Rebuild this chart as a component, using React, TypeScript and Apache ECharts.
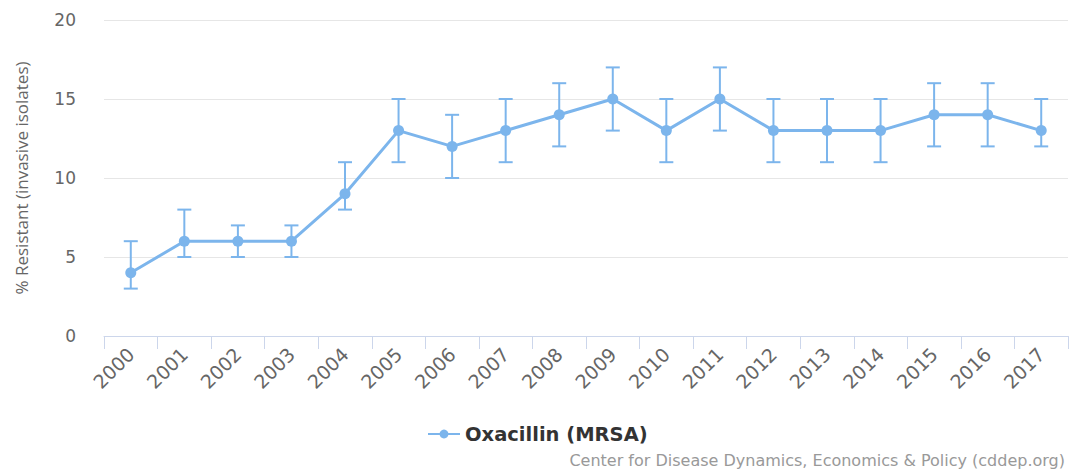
import React, { useEffect, useRef } from "react";
import * as echarts from "echarts";

const years = ["2000", "2001", "2002", "2003", "2004", "2005", "2006", "2007", "2008", "2009", "2010", "2011", "2012", "2013", "2014", "2015", "2016", "2017"];
const resistant = [4, 6, 6, 6, 9, 13, 12, 13, 14, 15, 13, 15, 13, 13, 13, 14, 14, 13];
const lowerBound = [3, 5, 5, 5, 8, 11, 10, 11, 12, 13, 11, 13, 11, 11, 11, 12, 12, 12];
const upperBound = [6, 8, 7, 7, 11, 15, 14, 15, 16, 17, 15, 17, 15, 15, 15, 16, 16, 15];

const seriesName = "Oxacillin (MRSA)";
const credit = "Center for Disease Dynamics, Economics & Policy (cddep.org)";

const FONT = "DejaVu Sans";
const BLUE = "#7cb5ec";

export default function App() {
  const ref = useRef<HTMLDivElement>(null);

  useEffect(() => {
    if (!ref.current) return;
    const chart = echarts.init(ref.current, null, { renderer: "svg" });

    const errorData = years.map((_, i) => [i, lowerBound[i], upperBound[i]]);

    chart.setOption({
      animation: false,
      backgroundColor: "#ffffff",
      grid: { left: 104, right: 2, top: 20, bottom: 134, containLabel: false },
      legend: {
        data: [seriesName],
        left: 422,
        top: 419,
        itemWidth: 32,
        itemHeight: 11,
        itemGap: 10,
        textStyle: { fontFamily: FONT, fontSize: 19.5, fontWeight: "bold", color: "#333333" },
      },
      graphic: [
        {
          type: "text",
          right: 5,
          top: 452,
          style: { text: credit, font: `16px ${FONT}`, fill: "#999999" },
        },
      ],
      xAxis: {
        type: "category",
        data: years,
        boundaryGap: true,
        axisLine: { lineStyle: { color: "#ccd6eb", width: 1 } },
        axisTick: { show: true, length: 13, lineStyle: { color: "#ccd6eb" } },
        axisLabel: {
          rotate: 45,
          margin: 15,
          fontFamily: FONT,
          fontSize: 19,
          color: "#666666",
        },
      },
      yAxis: {
        type: "value",
        min: 0,
        max: 20,
        interval: 5,
        name: "% Resistant (invasive isolates)",
        nameLocation: "middle",
        nameGap: 74,
        nameRotate: 90,
        nameTextStyle: { fontFamily: "Open Sans", fontSize: 17, color: "#666666" },
        axisLine: { show: false },
        axisTick: { show: false },
        axisLabel: { margin: 28, fontFamily: FONT, fontSize: 17, color: "#666666" },
        splitLine: { lineStyle: { color: "#e6e6e6", width: 1 } },
      },
      series: [
        {
          name: "error",
          type: "custom",
          z: 1,
          data: errorData,
          encode: { x: 0, y: [1, 2] },
          renderItem: (params: any, api: any) => {
            const idx = api.value(0);
            const lo = api.coord([idx, api.value(1)]);
            const hi = api.coord([idx, api.value(2)]);
            const half = 7;
            const style = { stroke: BLUE, lineWidth: 2 };
            return {
              type: "group",
              children: [
                { type: "line", shape: { x1: lo[0], y1: lo[1], x2: hi[0], y2: hi[1] }, style },
                { type: "line", shape: { x1: hi[0] - half, y1: hi[1], x2: hi[0] + half, y2: hi[1] }, style },
                { type: "line", shape: { x1: lo[0] - half, y1: lo[1], x2: lo[0] + half, y2: lo[1] }, style },
              ],
            };
          },
        },
        {
          name: seriesName,
          type: "line",
          z: 3,
          data: resistant,
          symbol: "circle",
          symbolSize: 11,
          showSymbol: true,
          itemStyle: { color: BLUE },
          lineStyle: { color: BLUE, width: 3 },
        },
      ],
    });

    return () => chart.dispose();
  }, []);

  return (
    <div
      ref={ref}
      style={{ position: "fixed", left: 0, top: 0, width: 1070, height: 470 }}
    />
  );
}
